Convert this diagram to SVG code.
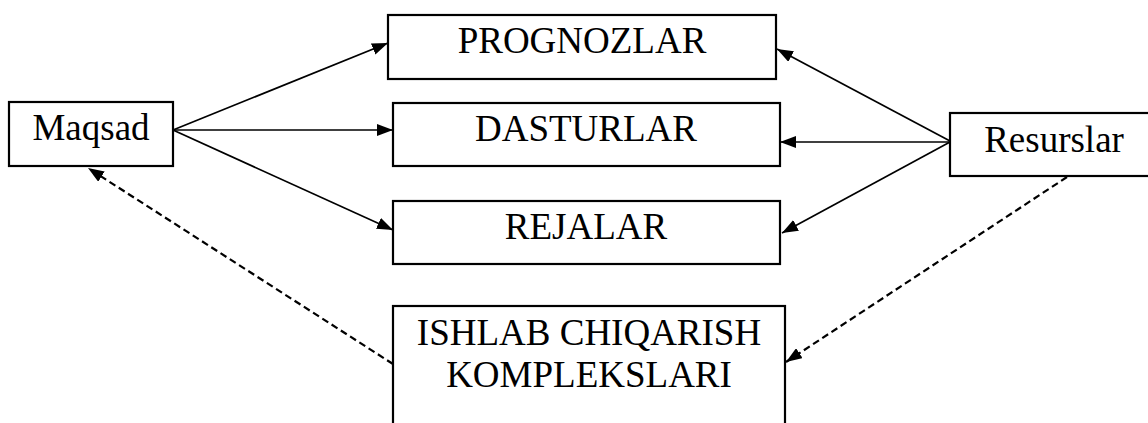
<svg xmlns="http://www.w3.org/2000/svg" width="1148" height="423" viewBox="0 0 1148 423">
<style>
.box{fill:#fff;stroke:#000;stroke-width:2.2}
.t{font-family:"Liberation Serif","Times New Roman",serif;font-size:37px;fill:#000;text-anchor:middle}
.c{stroke:#000;stroke-width:1.7;fill:none}
.d{stroke:#000;stroke-width:2.2;fill:none;stroke-dasharray:7 4}
</style>
<defs>
<marker id="ah" viewBox="0 0 16 12" refX="16" refY="6" markerWidth="16" markerHeight="12" markerUnits="userSpaceOnUse" orient="auto">
<path d="M0,0 L16,6 L0,12 Z" fill="#000"/>
</marker>
</defs>
<rect width="1148" height="423" fill="#fff"/>
<g id="connectors">
<line class="c" x1="173" y1="130" x2="388" y2="43" marker-end="url(#ah)"/>
<line class="c" x1="173" y1="130" x2="393" y2="130" marker-end="url(#ah)"/>
<line class="c" x1="173" y1="130" x2="393" y2="230" marker-end="url(#ah)"/>
<line class="c" x1="950" y1="141" x2="777" y2="49" marker-end="url(#ah)"/>
<line class="c" x1="950" y1="142" x2="780" y2="142" marker-end="url(#ah)"/>
<line class="c" x1="950" y1="142" x2="782" y2="233" marker-end="url(#ah)"/>
<line class="d" x1="1067" y1="177" x2="786" y2="362" marker-end="url(#ah)"/>
<line class="d" x1="393" y1="364" x2="88" y2="168" marker-end="url(#ah)"/>
</g>
<g id="maqsad">
<rect class="box" x="9" y="102" width="164" height="64"/>
<text class="t" x="91" y="140">Maqsad</text>
</g>
<g id="prognozlar">
<rect class="box" x="388" y="15" width="388" height="64"/>
<text class="t" x="582" y="53">PROGNOZLAR</text>
</g>
<g id="dasturlar">
<rect class="box" x="393" y="103" width="387" height="63"/>
<text class="t" x="586" y="141">DASTURLAR</text>
</g>
<g id="rejalar">
<rect class="box" x="393" y="201" width="387" height="63"/>
<text class="t" x="586" y="239">REJALAR</text>
</g>
<g id="resurslar">
<rect class="box" x="950" y="113" width="210" height="63"/>
<text class="t" x="1054" y="152">Resurslar</text>
</g>
<g id="ishlab">
<rect class="box" x="393" y="306" width="392" height="140"/>
<text class="t" x="589" y="345">ISHLAB CHIQARISH</text>
<text class="t" x="589" y="387">KOMPLEKSLARI</text>
</g>
</svg>
